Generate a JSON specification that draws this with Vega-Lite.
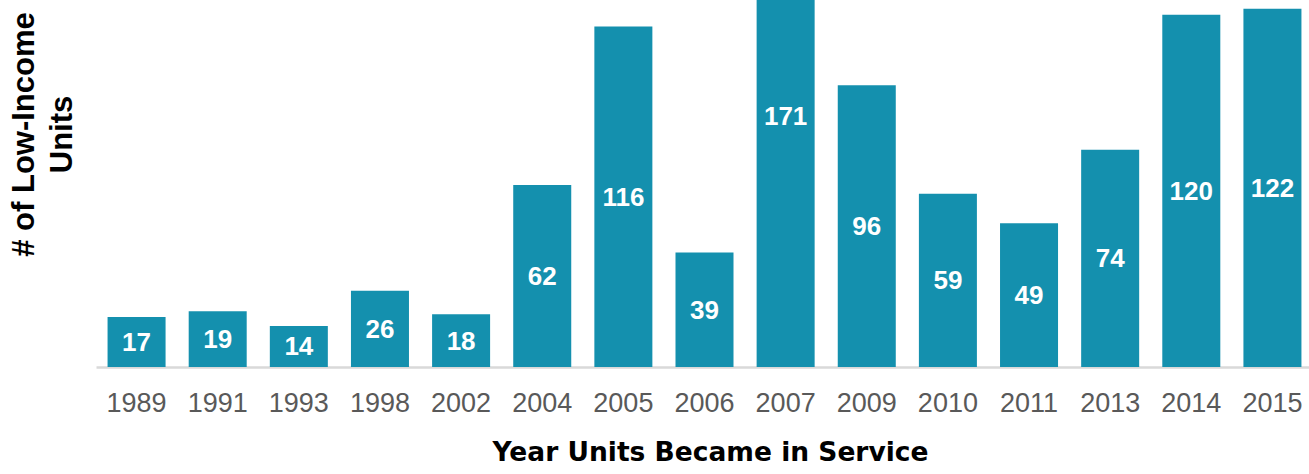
{
  "$schema": "https://vega.github.io/schema/vega-lite/v6.json",
  "width": 1217,
  "height": 367,
  "autosize": {"type": "none"},
  "padding": {"left": 96, "top": 0, "right": 0, "bottom": 107},
  "background": "white",
  "config": {"view": {"stroke": null}},
  "data": {
    "values": [
      {"year": "1989", "units": 17},
      {"year": "1991", "units": 19},
      {"year": "1993", "units": 14},
      {"year": "1998", "units": 26},
      {"year": "2002", "units": 18},
      {"year": "2004", "units": 62},
      {"year": "2005", "units": 116},
      {"year": "2006", "units": 39},
      {"year": "2007", "units": 171},
      {"year": "2009", "units": 96},
      {"year": "2010", "units": 59},
      {"year": "2011", "units": 49},
      {"year": "2013", "units": 74},
      {"year": "2014", "units": 120},
      {"year": "2015", "units": 122}
    ]
  },
  "encoding": {
    "x": {
      "field": "year",
      "type": "ordinal",
      "sort": null,
      "scale": {"paddingInner": 0.285, "paddingOuter": 0.1425},
      "axis": {
        "title": "Year Units Became in Service",
        "titleFont": "DejaVu Sans",
        "titleFontSize": 26.5,
        "titleFontWeight": "bold",
        "titleColor": "#000000",
        "titlePadding": 23,
        "titleX": 614,
        "labelAngle": 0,
        "labelFont": "Liberation Sans",
        "labelFontSize": 27,
        "labelColor": "#595959",
        "labelPadding": 23,
        "ticks": false,
        "domainColor": "#D9D9D9",
        "domainWidth": 2.5
      }
    }
  },
  "layer": [
    {
      "mark": {"type": "bar", "color": "#1490AE", "clip": true},
      "encoding": {
        "y": {
          "field": "units",
          "type": "quantitative",
          "scale": {"domain": [0, 125], "nice": false},
          "axis": {
            "title": ["# of Low-Income", "Units"],
            "titleFont": "Liberation Sans",
            "titleFontSize": 31,
            "titleFontWeight": "bold",
            "titleColor": "#000000",
            "titleX": -56,
            "titleY": 134,
            "titleAlign": "center",
            "titleLineHeight": 38,
            "labels": false,
            "ticks": false,
            "domain": false,
            "grid": false
          }
        }
      }
    },
    {
      "transform": [{"calculate": "datum.units / 2", "as": "mid"}],
      "mark": {
        "type": "text",
        "color": "white",
        "font": "Liberation Sans",
        "fontSize": 26,
        "fontWeight": "bold",
        "baseline": "middle",
        "dy": 1
      },
      "encoding": {
        "y": {"field": "mid", "type": "quantitative", "scale": {"domain": [0, 125], "nice": false}},
        "text": {"field": "units", "type": "quantitative"}
      }
    }
  ]
}
